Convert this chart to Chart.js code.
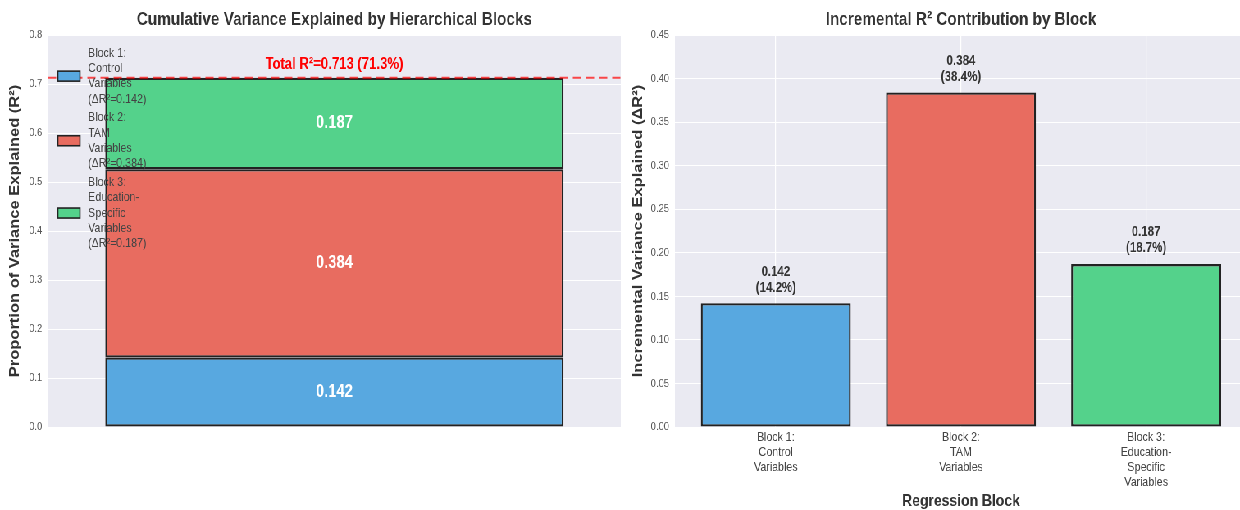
<!DOCTYPE html>
<html>
<head>
<meta charset="utf-8">
<script src="https://cdn.jsdelivr.net/npm/chart.js@4.4.1/dist/chart.umd.min.js"></script>
<style>
  html, body { margin: 0; padding: 0; background: #ffffff; }
  body { width: 1240px; height: 510px; overflow: hidden; position: relative; }
  /* the figure is laid out wide and compressed horizontally */
  #figure { position: absolute; left: 0; top: 0; width: 1522px; height: 510px;
            transform: scaleX(0.8201); transform-origin: 0 0; }
  #wrapL { position: absolute; left: 0; top: 0; width: 762px; height: 510px; }
  #wrapR { position: absolute; left: 756px; top: 0; width: 766px; height: 510px; }
</style>
</head>
<body>
<div id="figure">
  <div id="wrapL"><canvas id="cum" width="762" height="510"></canvas></div>
  <div id="wrapR"><canvas id="inc" width="766" height="510"></canvas></div>
</div>
<script>
// Regression blocks and their incremental R² contributions
const blockLabels = [
  ['Block 1:', 'Control', 'Variables'],
  ['Block 2:', 'TAM', 'Variables'],
  ['Block 3:', 'Education-', 'Specific', 'Variables']
];
const deltaR2 = [0.142, 0.384, 0.187];
const blockColors = ['#58a8e0', '#e86c60', '#54d28b'];

// Axis tick labels
const cumTickLabels = ['0.0', '0.1', '0.2', '0.3', '0.4', '0.5', '0.6', '0.7', '0.8'];
const incTickLabels = ['0.00', '0.05', '0.10', '0.15', '0.20', '0.25', '0.30', '0.35', '0.40', '0.45'];

const FONT = "'Liberation Sans', Arial, sans-serif";
const PLOT_BG = '#eaeaf2';
const EDGE = '#222222';

Chart.defaults.font.family = FONT;
Chart.defaults.color = '#555555';

const totalR2 = deltaR2.reduce((a, b) => a + b, 0);

// grey plotting area behind grid and bars
const plotBg = {
  id: 'plotBg',
  beforeDraw(chart) {
    const { ctx, chartArea: a } = chart;
    ctx.save();
    ctx.fillStyle = PLOT_BG;
    ctx.fillRect(a.left, a.top, a.right - a.left, a.bottom - a.top);
    ctx.restore();
  }
};

// segment values, total R² reference line and the wrapped legend
const cumOverlay = {
  id: 'cumOverlay',
  afterDatasetsDraw(chart) {
    const { ctx, chartArea: a, scales } = chart;
    ctx.save();
    // value inside each stacked segment
    ctx.font = `bold 18px ${FONT}`;
    ctx.fillStyle = '#ffffff';
    ctx.textAlign = 'center';
    ctx.textBaseline = 'middle';
    chart.data.datasets.forEach((ds, i) => {
      const el = chart.getDatasetMeta(i).data[0];
      ctx.fillText(ds.data[0].toFixed(3), el.x, (el.y + el.base) / 2);
    });

    // total R² dashed line
    const yT = scales.y.getPixelForValue(totalR2);
    ctx.strokeStyle = 'rgba(255, 0, 0, 0.7)';
    ctx.lineWidth = 2;
    ctx.setLineDash([10, 6]);
    ctx.beginPath();
    ctx.moveTo(a.left, yT);
    ctx.lineTo(a.right, yT);
    ctx.stroke();
    ctx.setLineDash([]);
    const bar = chart.getDatasetMeta(0).data[0];
    ctx.font = `bold 16px ${FONT}`;
    ctx.fillStyle = '#ff0000';
    ctx.fillText(`Total R²=${totalR2.toFixed(3)} (${(totalR2 * 100).toFixed(1)}%)`, bar.x, yT - 13);

    // legend with wrapped entries
    const lineH = 15.4;
    ctx.font = `13px ${FONT}`;
    ctx.textAlign = 'left';
    let yTop = a.top + 18;
    chart.data.datasets.forEach((ds) => {
      const lines = ds.label;
      const mid = yTop + (lines.length - 1) * lineH / 2;
      ctx.fillStyle = ds.backgroundColor;
      ctx.fillRect(a.left + 12, mid - 5, 27, 10);
      ctx.strokeStyle = EDGE;
      ctx.lineWidth = 1.6;
      ctx.strokeRect(a.left + 12, mid - 5, 27, 10);
      ctx.fillStyle = '#444444';
      lines.forEach((t, k) => ctx.fillText(t, a.left + 49, yTop + k * lineH));
      yTop += lines.length * lineH + 3;
    });
    ctx.restore();
  }
};

// value and percentage above each incremental bar
const incLabels = {
  id: 'incLabels',
  afterDatasetsDraw(chart) {
    const { ctx } = chart;
    const meta = chart.getDatasetMeta(0);
    ctx.save();
    ctx.font = `bold 14px ${FONT}`;
    ctx.fillStyle = '#333333';
    ctx.textAlign = 'center';
    ctx.textBaseline = 'middle';
    meta.data.forEach((el, i) => {
      const v = deltaR2[i];
      ctx.fillText(v.toFixed(3), el.x, el.y - 31.5);
      ctx.fillText(`(${(v * 100).toFixed(1)}%)`, el.x, el.y - 15.5);
    });
    ctx.restore();
  }
};

new Chart(document.getElementById('cum'), {
  type: 'bar',
  data: {
    labels: [''],
    datasets: deltaR2.map((v, i) => ({
      label: [...blockLabels[i], `(ΔR²=${v.toFixed(3)})`],
      data: [v],
      backgroundColor: blockColors[i],
      borderColor: EDGE,
      borderWidth: 2.3,
      borderSkipped: false,
      barPercentage: 0.8,
      categoryPercentage: 1
    }))
  },
  options: {
    responsive: false,
    animation: false,
    events: [],
    layout: { padding: { left: 0, right: 5, top: 0, bottom: 83 } },
    plugins: {
      legend: { display: false },
      tooltip: { enabled: false },
      title: {
        display: true,
        fullSize: false,
        text: 'Cumulative Variance Explained by Hierarchical Blocks',
        color: '#333333',
        font: { size: 18.7, weight: 'bold', lineHeight: 1.2 },
        padding: { top: 8.8, bottom: 3.8 }
      }
    },
    scales: {
      x: { stacked: true, display: false },
      y: {
        stacked: true,
        min: 0,
        max: 0.8,
        ticks: {
          stepSize: 0.1,
          padding: 7,
          font: { size: 11.5 },
          color: '#555555',
          callback: (v, idx) => cumTickLabels[idx]
        },
        grid: { color: '#ffffff', lineWidth: 1, drawTicks: false },
        border: { display: false },
        title: {
          display: true,
          text: 'Proportion of Variance Explained (R²)',
          color: '#333333',
          font: { size: 16.5, weight: 'bold', lineHeight: 1.2 },
          padding: { top: 8.4, bottom: 0 }
        },
        afterFit(s) { s.width = 58.5; }
      }
    }
  },
  plugins: [plotBg, cumOverlay]
});

new Chart(document.getElementById('inc'), {
  type: 'bar',
  data: {
    datasets: [{
      data: deltaR2.map((v, i) => ({ x: i, y: v })),
      backgroundColor: blockColors,
      borderColor: EDGE,
      borderWidth: 2.3,
      borderSkipped: false,
      barPercentage: 0.81,
      categoryPercentage: 1
    }]
  },
  options: {
    responsive: false,
    animation: false,
    events: [],
    layout: { padding: { left: 0, right: 1.4, top: 0, bottom: 0 } },
    plugins: {
      legend: { display: false },
      tooltip: { enabled: false },
      title: {
        display: true,
        fullSize: false,
        text: 'Incremental R² Contribution by Block',
        color: '#333333',
        font: { size: 18.7, weight: 'bold', lineHeight: 1.2 },
        padding: { top: 8.8, bottom: 3.8 }
      }
    },
    scales: {
      x: {
        type: 'linear',
        offset: false,
        min: -0.545,
        max: 2.545,
        ticks: {
          stepSize: 1,
          includeBounds: false,
          autoSkip: false,
          maxRotation: 0,
          padding: 2.5,
          font: { size: 13, lineHeight: 15 / 13 },
          color: '#444444',
          callback: (v) => blockLabels[v] ?? ''
        },
        grid: { offset: false, color: '#ffffff', lineWidth: 1.2, drawTicks: false },
        border: { display: false },
        title: {
          display: true,
          text: 'Regression Block',
          color: '#333333',
          font: { size: 17, weight: 'bold', lineHeight: 1 },
          padding: { top: 0, bottom: 0.5 }
        },
        afterFit(s) { s.height = 83; }
      },
      y: {
        min: 0,
        max: 0.45,
        ticks: {
          stepSize: 0.05,
          padding: 7,
          font: { size: 11.5 },
          color: '#555555',
          callback: (v, idx) => incTickLabels[idx]
        },
        grid: { color: '#ffffff', lineWidth: 1, drawTicks: false },
        border: { display: false },
        title: {
          display: true,
          text: 'Incremental Variance Explained (ΔR²)',
          color: '#333333',
          font: { size: 16.5, weight: 'bold', lineHeight: 1.2 },
          padding: { top: 12.1, bottom: 0 }
        },
        afterFit(s) { s.width = 67; }
      }
    }
  },
  plugins: [plotBg, incLabels]
});
</script>
</body>
</html>
